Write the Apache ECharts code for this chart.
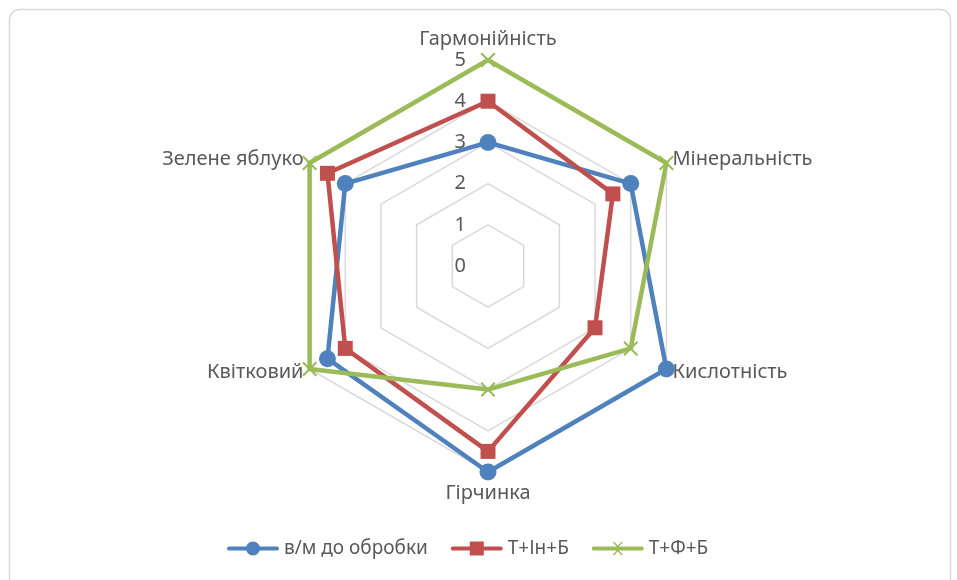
<!DOCTYPE html>
<html>
<head>
<meta charset="utf-8">
<script src="https://cdn.jsdelivr.net/npm/echarts@6/dist/echarts.min.js"></script>
<style>
  html, body { margin: 0; padding: 0; background: #ffffff; }
  #chart { width: 957px; height: 580px; }
</style>
</head>
<body>
<div id="chart"></div>
<script>
// Sensory profile categories, listed clockwise from the top
const categories = ['Гармонійність', 'Мінеральність', 'Кислотність', 'Гірчинка', 'Квітковий', 'Зелене яблуко'];

// Scores per sample (same order as categories)
const seriesNames = ['в/м до обробки', 'Т+Ін+Б', 'Т+Ф+Б'];
const untreated = [3, 4, 5, 5, 4.5, 4];
const tInB = [4, 3.5, 3, 4.5, 4, 4.5];
const tFB = [5, 5, 4, 3, 5, 5];

// Scale ticks
const scaleMin = 0;
const scaleMax = 5;
const scaleTicks = ['0', '1', '2', '3', '4', '5'];

const colors = ['#4F81BD', '#C0504D', '#9BBB59'];
const FONT = '"Noto Sans", "Open Sans", sans-serif';
const TEXT_COLOR = '#595959';

// ECharts lays radar indicators out counter-clockwise; reorder so they run clockwise
const order = [0, 5, 4, 3, 2, 1];
const reorder = arr => order.map(i => arr[i]);

const indicators = reorder(categories).map((name, k) => ({
  name: name,
  min: scaleMin,
  max: scaleMax,
  // value labels only along the top axis
  axisLabel: k === 0 ? {
    show: true,
    color: TEXT_COLOR,
    fontFamily: FONT,
    fontSize: 20,
    margin: 22,
    padding: [4, 0, 0, 0],
    formatter: v => scaleTicks[Math.round(v - scaleMin)] ?? String(v)
  } : { show: false }
}));

const xPath = 'path://M0,1 L1,0 L5,4 L9,0 L10,1 L6,5 L10,9 L9,10 L5,6 L1,10 L0,9 L4,5 Z';
const symbols = ['circle', 'rect', xPath];
const symbolSizes = [17, 15, 15];

// Legend icons: a thick line with the series marker in the middle
const LINE = 'M2,5 L50,5 A2,2 0 0 1 50,9 L2,9 A2,2 0 0 1 2,5 Z ';
const legendIcons = [
  'path://' + LINE + 'M26,0 A7,7 0 1 1 25.99,0 Z',
  'path://' + LINE + 'M19,0 L33,0 L33,14 L19,14 Z',
  'path://' + LINE + 'M21,1 L22,0 L26,4 L30,0 L31,1 L27,5 L27,9 L31,13 L30,14 L26,10 L22,14 L21,13 L25,9 L25,5 Z M0,0 L0.01,0 Z M52,14 L52.01,14 Z'
];

const values = [untreated, tInB, tFB];

const chart = echarts.init(document.getElementById('chart'), null, { renderer: 'canvas' });

chart.setOption({
  animation: false,
  backgroundColor: '#ffffff',
  graphic: [{
    type: 'rect',
    left: 7,
    top: 7,
    shape: { width: 941, height: 600, r: 10 },
    style: { fill: 'none', stroke: '#d9d9d9', lineWidth: 1.5 },
    silent: true
  }],
  legend: {
    left: 227,
    top: 539,
    padding: 0,
    itemWidth: 52,
    itemHeight: 14,
    itemGap: 23,
    textStyle: { color: TEXT_COLOR, fontFamily: FONT, fontSize: 19 },
    data: seriesNames.map((n, i) => ({ name: n, icon: legendIcons[i] }))
  },
  radar: {
    center: [488, 266],
    radius: 206,
    startAngle: 90,
    shape: 'polygon',
    splitNumber: 5,
    indicator: indicators,
    axisName: {
      color: TEXT_COLOR,
      fontFamily: FONT,
      fontSize: 20,
      padding: [4, 0, 4, 0]
    },
    nameGap: 7,
    axisLine: { show: false },
    axisTick: { show: false },
    axisLabel: { show: false },
    splitArea: { show: false },
    splitLine: { lineStyle: { color: '#d9d9d9', width: 1.5 } }
  },
  series: [{
    type: 'radar',
    data: values.map((v, i) => ({
      name: seriesNames[i],
      value: reorder(v),
      symbol: symbols[i],
      symbolSize: symbolSizes[i],
      lineStyle: { color: colors[i], width: 4.5 },
      itemStyle: { color: colors[i] }
    }))
  }],
  color: colors
});
</script>
</body>
</html>
